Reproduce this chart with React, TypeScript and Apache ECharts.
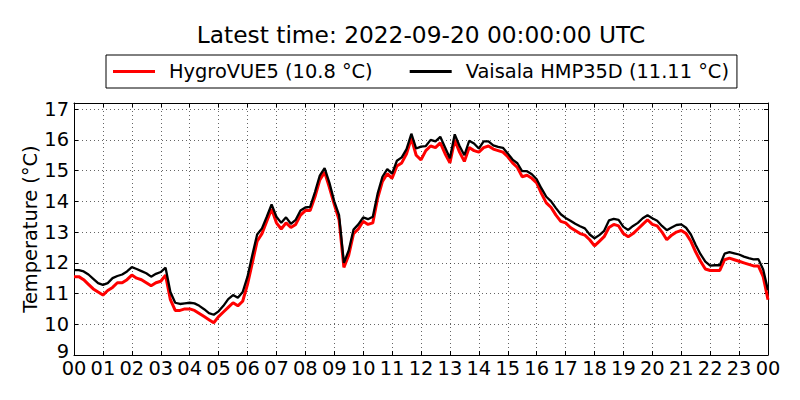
import React, { useEffect, useRef } from "react";
import * as echarts from "echarts";

const TITLE = "Latest time: 2022-09-20 00:00:00 UTC";
const NAME_HYGRO = "HygroVUE5 (10.8 °C)";
const NAME_VAISALA = "Vaisala HMP35D (11.11 °C)";
const HOUR_LABELS = ["00","01","02","03","04","05","06","07","08","09","10","11","12","13","14","15","16","17","18","19","20","21","22","23","00"];
const Y_TICKS = [9, 10, 11, 12, 13, 14, 15, 16, 17];
const Y_MAX = 17.2;
const STEPS_PER_HOUR = 6; // one reading every 10 minutes

// Vaisala HMP35D (black), every 10 minutes from 00:00 to 24:00
const VAISALA = [
  11.76, 11.76, 11.72, 11.62, 11.48, 11.34,
  11.28, 11.34, 11.5, 11.57, 11.62, 11.72,
  11.86, 11.8, 11.73, 11.66, 11.55, 11.64,
  11.7, 11.84, 11.05, 10.7, 10.66, 10.68,
  10.7, 10.68, 10.6, 10.49, 10.36, 10.31,
  10.42, 10.6, 10.82, 10.95, 10.86, 11.05,
  11.55, 12.25, 12.92, 13.12, 13.5, 13.9,
  13.5, 13.3, 13.48, 13.27, 13.4, 13.7,
  13.8, 13.82, 14.3, 14.84, 15.08, 14.6,
  14.0, 13.55, 12.0, 12.4, 13.08, 13.25,
  13.48, 13.42, 13.5, 14.25, 14.8, 15.05,
  14.9, 15.32, 15.43, 15.7, 16.2, 15.72,
  15.78, 15.8, 16.0, 15.95, 16.1, 15.75,
  15.4, 16.18, 15.8, 15.5, 15.97, 15.88,
  15.72, 15.95, 15.95, 15.82, 15.77, 15.74,
  15.56, 15.36, 15.24, 14.98, 14.98, 14.88,
  14.72, 14.42, 14.15, 14.0, 13.78, 13.58,
  13.46, 13.37, 13.27, 13.19, 13.12, 12.92,
  12.8, 12.9, 13.04, 13.38, 13.43, 13.4,
  13.17, 13.07, 13.2, 13.3, 13.45, 13.55,
  13.45, 13.37, 13.2, 13.06, 13.15, 13.23,
  13.25, 13.14, 12.92, 12.58, 12.28, 12.04,
  11.91, 11.92, 11.92, 12.3, 12.35, 12.31,
  12.27, 12.2, 12.15, 12.11, 12.12, 11.78,
  11.11,
];

// HygroVUE5 (red), every 10 minutes from 00:00 to 24:00
const HYGRO = [
  11.55, 11.55, 11.45, 11.3, 11.15, 11.05,
  10.95, 11.1, 11.2, 11.35, 11.35, 11.45,
  11.6, 11.5, 11.45, 11.35, 11.25, 11.35,
  11.4, 11.6, 10.8, 10.45, 10.45, 10.5,
  10.5, 10.45, 10.35, 10.25, 10.15, 10.05,
  10.25, 10.4, 10.55, 10.7, 10.6, 10.75,
  11.3, 12.0, 12.7, 12.95, 13.35, 13.75,
  13.3, 13.1, 13.3, 13.15, 13.25, 13.55,
  13.7, 13.7, 14.15, 14.7, 14.95, 14.45,
  13.9, 13.4, 11.85, 12.25, 12.95, 13.1,
  13.35, 13.25, 13.3, 14.1, 14.65, 14.9,
  14.75, 15.15, 15.25, 15.55, 16.05, 15.5,
  15.35, 15.65, 15.8, 15.75, 15.9, 15.55,
  15.25, 16.0, 15.6, 15.3, 15.75, 15.65,
  15.6, 15.75, 15.8, 15.7, 15.65, 15.6,
  15.45, 15.25, 15.1, 14.8, 14.85, 14.75,
  14.6, 14.25, 13.95, 13.8, 13.55, 13.35,
  13.3, 13.15, 13.05, 12.95, 12.9, 12.75,
  12.55, 12.7, 12.85, 13.15, 13.25, 13.2,
  12.95, 12.85, 12.95, 13.1, 13.25, 13.4,
  13.25, 13.2, 13.0, 12.75, 12.9, 13.0,
  13.05, 12.95, 12.7, 12.35, 12.05, 11.8,
  11.75, 11.75, 11.75, 12.1, 12.15, 12.1,
  12.05, 12.0, 11.95, 11.9, 11.9, 11.55,
  10.8,
];

const FONT = "DejaVu Sans";
const FS = 19.4;

export default function App() {
  const ref = useRef<HTMLDivElement>(null);
  useEffect(() => {
    document.body.style.margin = "0";
    document.body.style.overflow = "hidden";
    if (!ref.current) return;
    const chart = echarts.init(ref.current, null, { renderer: "svg" });
    const toPairs = (arr: number[]) => arr.map((v, i) => [i / STEPS_PER_HOUR, v]);
    const hourMax = HOUR_LABELS.length - 1;
    const tickCommon = { show: true, inside: true, length: 4, lineStyle: { color: "#000", width: 1 } };
    const lineCommon = { show: true, onZero: false, lineStyle: { color: "#000", width: 1 } };
    chart.setOption({
      animation: false,
      backgroundColor: "#fff",
      textStyle: { fontFamily: FONT },
      grid: { left: 74, right: 32, top: 103, bottom: 45, containLabel: false },
      graphic: [
        {
          type: "text",
          x: 421,
          y: 34,
          style: {
            text: TITLE,
            fontFamily: FONT,
            fontSize: 23.3,
            fill: "#000",
            align: "center",
            verticalAlign: "middle",
          },
        },
      ],
      legend: {
        left: 106,
        top: 55,
        orient: "horizontal",
        padding: [7, 8, 7, 7],
        itemGap: 37,
        itemWidth: 42,
        itemHeight: 3,
        icon: "rect",
        borderColor: "#000",
        borderWidth: 1,
        borderRadius: 0,
        backgroundColor: "#fff",
        data: [NAME_HYGRO, NAME_VAISALA],
        textStyle: { fontFamily: FONT, fontSize: FS, color: "#000", padding: [0, 0, 0, 9] },
      },
      xAxis: [
        {
          type: "value",
          min: 0,
          max: hourMax,
          interval: 1,
          axisLine: lineCommon,
          axisTick: tickCommon,
          axisLabel: {
            color: "#000",
            fontFamily: FONT,
            fontSize: FS,
            lineHeight: 18,
            margin: 4,
            formatter: (v: number) => HOUR_LABELS[Math.round(v)] ?? "",
          },
          splitLine: { show: true, lineStyle: { color: "#222", width: 0.7, type: [1, 3] } },
        },
        {
          type: "value",
          position: "top",
          min: 0,
          max: hourMax,
          interval: 1,
          axisLine: lineCommon,
          axisTick: tickCommon,
          axisLabel: { show: false },
          splitLine: { show: false },
        },
      ],
      yAxis: [
        {
          type: "value",
          min: Y_TICKS[0],
          max: Y_MAX,
          interval: 1,
          axisLine: lineCommon,
          axisTick: tickCommon,
          axisLabel: {
            color: "#000",
            fontFamily: FONT,
            fontSize: FS,
            lineHeight: 18,
            margin: 5,
            formatter: (v: number) =>
              v === Y_TICKS[0] ? "{low|" + v + "}" : Y_TICKS.includes(v) ? String(v) : "",
            rich: {
              low: { fontFamily: FONT, fontSize: FS, color: "#000", lineHeight: 18, padding: [0, 0, 8, 0] },
            },
          },
          splitLine: { show: true, lineStyle: { color: "#222", width: 0.7, type: [1, 3] } },
          name: "Temperature (°C)",
          nameLocation: "middle",
          nameGap: 34,
          nameMoveOverlap: false,
          nameTextStyle: { color: "#000", fontFamily: FONT, fontSize: FS },
        },
        {
          type: "value",
          position: "right",
          min: Y_TICKS[0],
          max: Y_MAX,
          interval: 1,
          axisLine: lineCommon,
          axisTick: tickCommon,
          axisLabel: { show: false },
          splitLine: { show: false },
        },
      ],
      series: [
        {
          name: NAME_HYGRO,
          type: "line",
          data: toPairs(HYGRO),
          showSymbol: false,
          symbol: "none",
          color: "#ff0000",
          lineStyle: { color: "#ff0000", width: 3 },
          z: 2,
        },
        {
          name: NAME_VAISALA,
          type: "line",
          data: toPairs(VAISALA),
          showSymbol: false,
          symbol: "none",
          color: "#000000",
          lineStyle: { color: "#000000", width: 2.3 },
          z: 3,
        },
      ],
    });
    return () => chart.dispose();
  }, []);
  return <div ref={ref} style={{ width: 800, height: 400 }} />;
}
